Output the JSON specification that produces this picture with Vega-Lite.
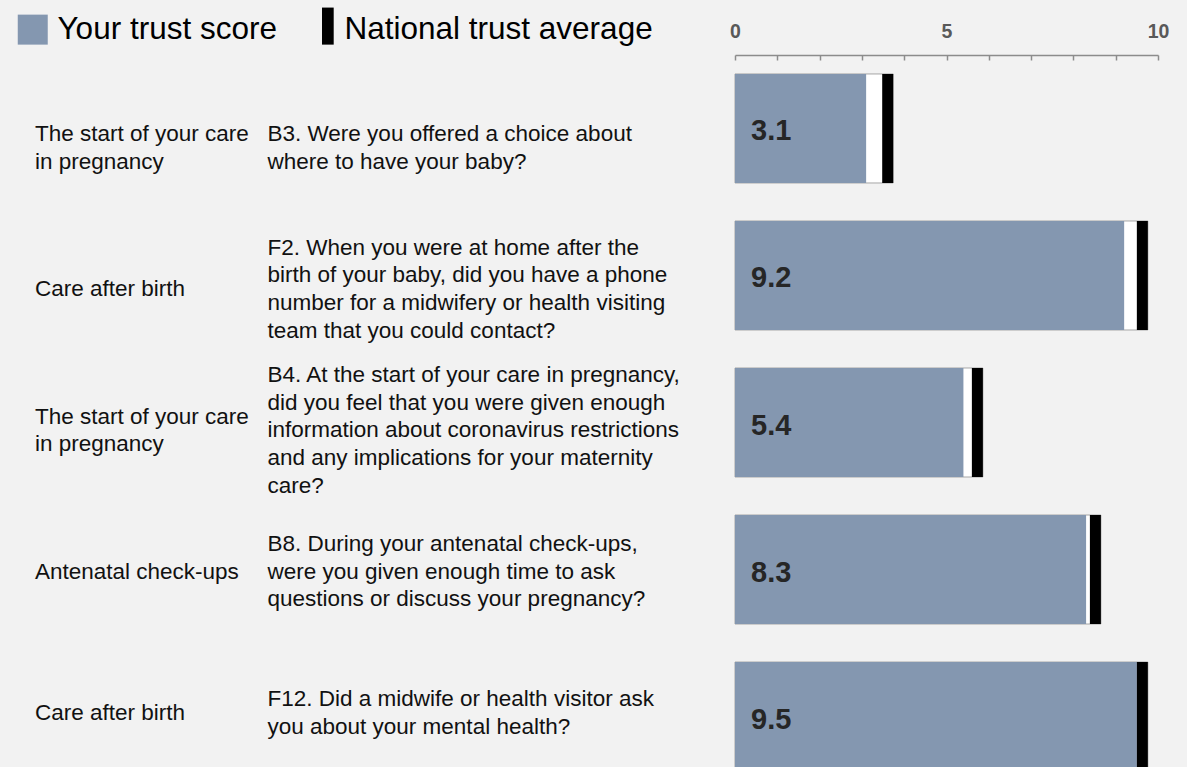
{
  "$schema": "https://vega.github.io/schema/vega-lite/v6.json",
  "background": "#f2f2f2",
  "padding": {"left": 17, "top": 13, "right": 18, "bottom": 0},
  "bounds": "flush",
  "spacing": 235,
  "config": {"view": {"stroke": null}, "font": "Liberation Sans"},
  "data": {
    "values": [
      {"code": "B3", "category": "The start of your care\nin pregnancy", "question": "B3. Were you offered a choice about\nwhere to have your baby?", "score": 3.1, "national": 3.74},
      {"code": "F2", "category": "Care after birth", "question": "F2. When you were at home after the\nbirth of your baby, did you have a phone\nnumber for a midwifery or health visiting\nteam that you could contact?", "score": 9.2, "national": 9.76},
      {"code": "B4", "category": "The start of your care\nin pregnancy", "question": "B4. At the start of your care in pregnancy,\ndid you feel that you were given enough\ninformation about coronavirus restrictions\nand any implications for your maternity\ncare?", "score": 5.4, "national": 5.86},
      {"code": "B8", "category": "Antenatal check-ups", "question": "B8. During your antenatal check-ups,\nwere you given enough time to ask\nquestions or discuss your pregnancy?", "score": 8.3, "national": 8.65},
      {"code": "F12", "category": "Care after birth", "question": "F12. Did a midwife or health visitor ask\nyou about your mental health?", "score": 9.5, "national": 9.76}
    ]
  },
  "hconcat": [
    {
      "width": 465,
      "height": 751,
      "encoding": {
        "y": {"field": "code", "type": "nominal", "sort": null, "scale": {"type": "point", "padding": 0.66}, "axis": null}
      },
      "layer": [
        {
          "mark": {"type": "text", "align": "left", "baseline": "middle", "fontSize": 22.5, "lineHeight": 27.7, "lineBreak": "\n", "color": "#111111",
                   "dy": {"expr": "-(length(split(datum.category, '\\n')) - 1) * 13.85"}},
          "encoding": {
            "x": {"datum": 0, "type": "quantitative", "scale": {"domain": [0, 1]}, "axis": null},
            "text": {"field": "category", "type": "nominal"}
          }
        },
        {
          "mark": {"type": "text", "align": "left", "baseline": "middle", "fontSize": 22.5, "lineHeight": 27.7, "lineBreak": "\n", "color": "#111111",
                   "dy": {"expr": "-(length(split(datum.question, '\\n')) - 1) * 13.85"}},
          "encoding": {
            "x": {"datum": 0.5, "type": "quantitative"},
            "text": {"field": "question", "type": "nominal"}
          }
        }
      ]
    },
    {
      "width": 423,
      "height": 735,
      "encoding": {
        "y": {"field": "code", "type": "nominal", "sort": null, "scale": {"paddingInner": 0.2585, "paddingOuter": 0.129}, "axis": null}
      },
      "layer": [
        {
          "mark": {"type": "bar", "fill": "#ffffff", "stroke": "#a6a6a6", "strokeWidth": 1},
          "encoding": {
            "x": {
              "field": "national", "type": "quantitative",
              "scale": {"domain": [0, 10], "nice": false},
              "axis": {
                "orient": "top", "title": null, "grid": false,
                "values": [0, 1, 2, 3, 4, 5, 6, 7, 8, 9, 10],
                "labelExpr": "datum.value % 5 === 0 ? datum.label : ''",
                "labelFont": "Liberation Sans", "labelFontWeight": "bold", "labelFontSize": 19.5, "labelColor": "#595959",
                "labelFlush": false, "labelOverlap": false, "labelPadding": 19,
                "domainColor": "#8c8c8c", "domainWidth": 1.5,
                "tickColor": "#8c8c8c", "tickWidth": 1.5, "tickSize": -5,
                "encode": {"ticks": {"update": {"y": {"signal": "datum.value % 5 === 0 ? -6 : 0"}}}}
              }
            }
          }
        },
        {
          "mark": {"type": "bar"},
          "encoding": {
            "x": {"field": "score", "type": "quantitative"},
            "color": {
              "datum": "Your trust score",
              "scale": {"domain": ["Your trust score", "National trust average"], "range": ["#8497b0", "#000000"]},
              "legend": {
                "title": null, "orient": "none", "direction": "horizontal",
                "legendX": -18, "legendY": -41.5,
                "symbolType": "square", "symbolSize": 900, "symbolStrokeWidth": 0,
                "labelFont": "Liberation Sans", "labelFontSize": 31.5, "labelColor": "#000000",
                "labelOffset": 9, "labelLimit": 500, "columnPadding": 27,
                "encode": {"symbols": {"update": {"shape": {"signal": "datum.value === 'National trust average' ? 'M0.15,-1.47H0.93V1H0.15Z' : 'square'"}}}}
              }
            }
          }
        },
        {
          "mark": {"type": "tick", "thickness": 11, "size": 109, "xOffset": -5.5, "opacity": 1},
          "encoding": {
            "x": {"field": "national", "type": "quantitative"},
            "color": {"datum": "National trust average"}
          }
        },
        {
          "mark": {"type": "text", "align": "left", "baseline": "middle", "dx": 16, "dy": 3, "fontSize": 29, "fontWeight": "bold", "color": "#262626"},
          "encoding": {
            "x": {"datum": 0, "type": "quantitative"},
            "text": {"field": "score", "type": "quantitative", "format": ".1f"}
          }
        }
      ]
    }
  ]
}
